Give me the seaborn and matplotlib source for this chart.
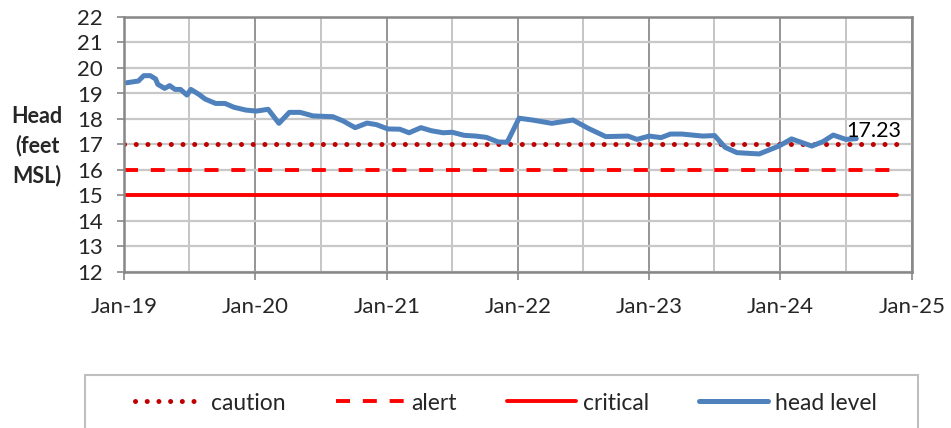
import matplotlib
matplotlib.use("Agg")
import matplotlib.dates as mdates
import matplotlib.pyplot as plt
import pandas as pd
import seaborn as sns
from matplotlib.patches import Rectangle

sns.set_theme(style="white")
plt.rcParams["font.family"] = ["Lato", "DejaVu Sans"]

HEAD_DATES = [
    "2019-01-08", "2019-02-10", "2019-02-25", "2019-03-15", "2019-03-30",
    "2019-04-05", "2019-04-24", "2019-05-08", "2019-05-23", "2019-06-07",
    "2019-06-25", "2019-07-06", "2019-07-28", "2019-08-15", "2019-09-13",
    "2019-10-09", "2019-11-03", "2019-12-06", "2020-01-04", "2020-02-06",
    "2020-03-07", "2020-04-05", "2020-05-05", "2020-06-10", "2020-08-04",
    "2020-09-02", "2020-10-05", "2020-11-07", "2020-12-03", "2021-01-04",
    "2021-02-06", "2021-03-04", "2021-04-06", "2021-05-05", "2021-06-07",
    "2021-07-02", "2021-08-04", "2021-09-06", "2021-10-05", "2021-11-07",
    "2021-12-02", "2022-01-04", "2022-02-10", "2022-04-05", "2022-06-03",
    "2022-07-16", "2022-09-02", "2022-11-03", "2022-11-28", "2023-01-01",
    "2023-02-03", "2023-03-01", "2023-04-02", "2023-05-30", "2023-07-02",
    "2023-07-31", "2023-09-02", "2023-11-03", "2023-12-28", "2024-02-01",
    "2024-03-28", "2024-04-28", "2024-05-27", "2024-07-01", "2024-07-30",
]
HEAD_VALUES = [
    19.42, 19.49, 19.70, 19.70, 19.57,
    19.36, 19.20, 19.31, 19.16, 19.16,
    18.94, 19.16, 18.97, 18.78, 18.61,
    18.61, 18.46, 18.35, 18.31, 18.38,
    17.83, 18.26, 18.26, 18.12, 18.09,
    17.92, 17.66, 17.84, 17.78, 17.61,
    17.60, 17.46, 17.66, 17.54, 17.46,
    17.48, 17.36, 17.33, 17.28, 17.10,
    17.09, 18.03, 17.96, 17.83, 17.96,
    17.63, 17.31, 17.33, 17.20, 17.33,
    17.27, 17.41, 17.41, 17.33, 17.35,
    16.89, 16.68, 16.63, 16.94, 17.22,
    16.94, 17.11, 17.37, 17.20, 17.23,
]
LAST_LABEL = "17.23"

THRESHOLD_DATES = ["2019-01-01", "2024-11-20"]
CAUTION_LEVEL = 17
ALERT_LEVEL = 16
CRITICAL_LEVEL = 15

Y_TICKS = list(range(12, 23))
X_LIMITS = ["2019-01-01", "2025-01-01"]
Y_LABEL = "Head\n(feet\nMSL)"

W, H = 951, 428
fig = plt.figure(figsize=(W / 100, H / 100), dpi=100)
ax = fig.add_axes([124 / W, 1 - 272 / H, (912 - 124) / W, 255 / H])

head_df = pd.DataFrame({"date": pd.to_datetime(HEAD_DATES), "head": HEAD_VALUES})


def threshold_df(level: float) -> pd.DataFrame:
    return pd.DataFrame({"date": pd.to_datetime(THRESHOLD_DATES), "head": [level] * len(THRESHOLD_DATES)})


sns.lineplot(data=threshold_df(CAUTION_LEVEL), x="date", y="head", ax=ax, color="#c00000",
             linewidth=3.6, linestyle=(0, (0.01, 2.33)), dash_capstyle="round", label="caution")
sns.lineplot(data=threshold_df(ALERT_LEVEL), x="date", y="head", ax=ax, color="#ff0000",
             linewidth=2.8, linestyle=(0, (3.6, 3.3)), label="alert")
sns.lineplot(data=threshold_df(CRITICAL_LEVEL), x="date", y="head", ax=ax, color="#ff0000",
             linewidth=2.8, label="critical")
sns.lineplot(data=head_df, x="date", y="head", ax=ax, color="#4f81bd",
             linewidth=3.6, label="head level")

handles, labels = ax.get_legend_handles_labels()
if ax.get_legend() is not None:
    ax.get_legend().remove()

last = head_df.iloc[-1]
ax.annotate(LAST_LABEL, xy=(last["date"], last["head"]), xytext=(-7, 1), textcoords="offset points",
            ha="left", va="baseline", fontsize=15.5, color="black")

ax.set_xlim(pd.to_datetime(X_LIMITS[0]), pd.to_datetime(X_LIMITS[1]))
ax.set_ylim(Y_TICKS[0], Y_TICKS[-1])
ax.set_yticks(Y_TICKS)
ax.xaxis.set_major_locator(mdates.YearLocator())
ax.xaxis.set_major_formatter(mdates.DateFormatter("%b-%y"))
ax.xaxis.set_minor_locator(mdates.MonthLocator(bymonth=7))
ax.set_xlabel("")
ax.set_ylabel("")

ax.grid(False)
ax.grid(axis="x", which="major", color="#8c8c8c", linewidth=1.3)
ax.grid(axis="x", which="minor", color="#c0c0c0", linewidth=1.3)
ax.grid(axis="y", which="major", color="#c8c8c8", linewidth=1.6)
ax.set_axisbelow(True)

for spine in ax.spines.values():
    spine.set_visible(True)
    spine.set_color("#878787")
    spine.set_linewidth(1.8)

ax.tick_params(axis="x", which="major", direction="out", length=6, width=1.2, color="#878787",
               labelsize=16, pad=12, bottom=True)
ax.tick_params(axis="x", which="minor", length=0)
ax.tick_params(axis="y", which="major", direction="out", length=5, width=1.2, color="#878787",
               labelsize=16, pad=10, left=True)

fig.text(37 / W, 1 - 146 / H, Y_LABEL, ha="center", va="center", fontsize=15.5,
         fontweight="bold", linespacing=1.45)

fig.add_artist(Rectangle((85 / W, -0.05), 833 / W, 0.05 + 1 - 375 / H, transform=fig.transFigure,
                         fill=False, edgecolor="#bfbfbf", linewidth=1.5))
fig.legend(handles, labels, loc="center", bbox_to_anchor=(506 / W, 1 - 403 / H), ncol=4,
           frameon=False, fontsize=16.5, handlelength=3.0, handletextpad=0.3, columnspacing=2.2)

fig.savefig("out.png", dpi=100)
